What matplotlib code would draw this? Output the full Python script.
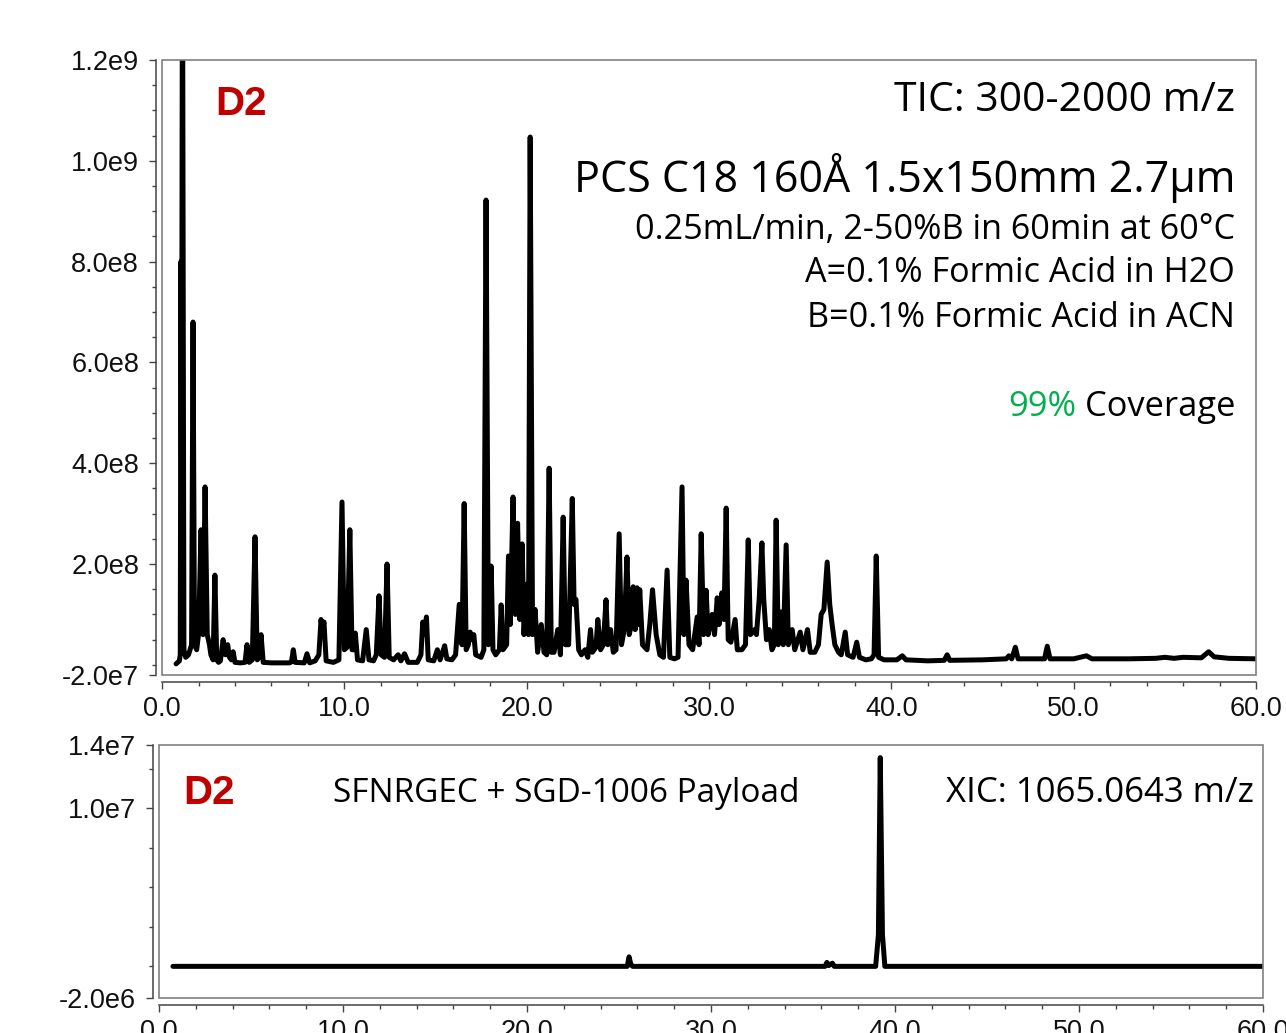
import matplotlib
matplotlib.use("Agg")
import matplotlib.pyplot as plt
from matplotlib.ticker import FixedLocator, MultipleLocator, FixedFormatter
from matplotlib.patches import Rectangle
import numpy as np

# ---------------- DATA ----------------
# TIC trace vertices: retention time (min) and intensity (x1e6 counts)
tic_time = [0.77, 0.95, 1.0, 1.04, 1.07, 1.12, 1.2, 1.3, 1.45, 1.62, 1.7, 1.78, 1.9, 2.0, 2.14, 2.25,
            2.36, 2.48, 2.6, 2.68, 2.8, 2.9, 3.0, 3.1, 3.2, 3.35, 3.48, 3.6, 3.7, 3.8, 3.9, 4.0,
            4.3, 4.55, 4.66, 4.78, 4.95, 5.1, 5.22, 5.33, 5.43, 5.55, 6.0, 7.0, 7.1, 7.2, 7.3, 7.8,
            7.95, 8.1, 8.4, 8.6, 8.72, 8.8, 8.88, 9.0, 9.4, 9.7, 9.87, 10.0, 10.15, 10.3, 10.42, 10.5,
            10.6, 10.72, 11.0, 11.2, 11.35, 11.6, 11.75, 11.9, 12.02, 12.2, 12.34, 12.46, 12.7, 12.95, 13.1, 13.3,
            13.5, 14.0, 14.2, 14.3, 14.4, 14.5, 14.6, 14.9, 15.1, 15.25, 15.5, 15.62, 15.9, 16.1, 16.3, 16.45,
            16.57, 16.68, 16.8, 16.9, 17.0, 17.1, 17.2, 17.5, 17.65, 17.77, 17.9, 18.05, 18.15, 18.3, 18.5, 18.6,
            18.7, 18.9, 19.0, 19.1, 19.25, 19.38, 19.5, 19.62, 19.75, 19.85, 20.0, 20.1, 20.19, 20.32, 20.46, 20.6,
            20.8, 20.95, 21.1, 21.23, 21.35, 21.5, 21.7, 21.85, 22.0, 22.12, 22.3, 22.5, 22.6, 22.7, 22.85, 23.0,
            23.2, 23.35, 23.5, 23.6, 23.8, 23.9, 24.05, 24.2, 24.35, 24.45, 24.6, 24.75, 24.9, 25.07, 25.2, 25.35,
            25.5, 25.62, 25.75, 25.84, 25.95, 26.05, 26.13, 26.2, 26.35, 26.6, 26.75, 26.9, 27.1, 27.3, 27.5, 27.7,
            27.85, 28.1, 28.3, 28.52, 28.62, 28.74, 28.9, 29.1, 29.35, 29.45, 29.57, 29.7, 29.84, 29.95, 30.17, 30.3,
            30.45, 30.55, 30.7, 30.82, 30.94, 31.05, 31.2, 31.43, 31.55, 31.8, 32.0, 32.15, 32.27, 32.5, 32.6, 32.75,
            32.9, 33.0, 33.15, 33.3, 33.45, 33.58, 33.68, 33.8, 33.95, 34.07, 34.23, 34.35, 34.56, 34.7, 35.0, 35.15,
            35.4, 35.55, 35.8, 36.0, 36.15, 36.3, 36.48, 36.62, 36.75, 36.9, 37.1, 37.25, 37.47, 37.6, 37.9, 38.1,
            38.25, 38.6, 38.9, 39.05, 39.17, 39.3, 39.6, 40.3, 40.6, 40.8, 42.0, 42.9, 43.06, 43.2, 45.0, 46.3,
            46.45, 46.6, 46.8, 46.95, 48.0, 48.4, 48.55, 48.7, 50.0, 50.7, 51.0, 53.0, 54.5, 55.0, 55.5, 56.0,
            57.0, 57.4, 57.7, 58.5, 60.0]
tic_intensity_e6 = [2, 8, 20, 800, 300, 1500, 30, 15, 20, 40, 680, 40, 30, 60, 268, 60,
                    353, 60, 40, 20, 10, 178, 10, 5, 8, 50, 20, 40, 15, 10, 26, 5,
                    4, 5, 40, 5, 10, 254, 10, 15, 60, 5, 4, 4, 6, 30, 5, 4,
                    22, 4, 8, 20, 90, 70, 85, 8, 5, 10, 323, 30, 35, 268, 30, 30,
                    63, 10, 8, 70, 10, 8, 20, 137, 20, 15, 200, 15, 10, 20, 8, 22,
                    5, 5, 20, 85, 60, 95, 10, 8, 30, 10, 38, 12, 10, 20, 120, 40,
                    320, 30, 40, 65, 50, 60, 20, 15, 30, 922, 40, 196, 30, 20, 30, 119,
                    30, 40, 216, 80, 333, 100, 281, 90, 240, 60, 160, 60, 1047, 60, 110, 25,
                    80, 25, 20, 390, 25, 25, 70, 20, 293, 40, 40, 330, 120, 130, 30, 20,
                    30, 15, 70, 25, 35, 90, 30, 40, 129, 40, 70, 25, 30, 260, 40, 70,
                    214, 60, 80, 155, 70, 153, 80, 149, 40, 30, 80, 149, 60, 20, 15, 188,
                    15, 12, 15, 353, 60, 168, 40, 30, 95, 40, 260, 60, 148, 60, 100, 60,
                    133, 80, 143, 90, 311, 50, 45, 90, 30, 30, 40, 248, 60, 70, 60, 130,
                    242, 130, 50, 70, 30, 40, 287, 40, 105, 40, 238, 40, 70, 30, 65, 30,
                    70, 25, 25, 40, 100, 110, 204, 120, 80, 40, 25, 20, 65, 20, 15, 45,
                    15, 10, 12, 20, 216, 15, 10, 10, 18, 10, 8, 9, 20, 9, 10, 12,
                    18, 12, 35, 12, 12, 12, 37, 12, 12, 18, 12, 12, 13, 15, 13, 15,
                    14, 26, 16, 13, 12]

# XIC trace vertices: retention time (min) and intensity (x1e6 counts)
xic_time = [0.76, 25.45, 25.55, 25.65, 25.75, 36.2, 36.3, 36.4, 36.6, 36.7,
            38.95, 39.1, 39.2, 39.32, 39.45, 60.0]
xic_intensity_e6 = [0, 0, 0.6, 0.1, 0, 0, 0.25, 0.05, 0.2, 0,
                    0, 2.0, 13.2, 2.0, 0, 0]

x_ticks = [0, 10, 20, 30, 40, 50, 60]
x_tick_labels = ["0.0", "10.0", "20.0", "30.0", "40.0", "50.0", "60.0"]
tic_y_ticks = [-2e7, 2e8, 4e8, 6e8, 8e8, 1.0e9, 1.2e9]
tic_y_labels = ["-2.0e7", "2.0e8", "4.0e8", "6.0e8", "8.0e8", "1.0e9", "1.2e9"]
xic_y_ticks = [-2e6, 1.0e7, 1.4e7]
xic_y_labels = ["-2.0e6", "1.0e7", "1.4e7"]
xic_y_minor = [0, 2.5e6, 5e6, 7.5e6, 1.25e7]

info_lines = ["TIC: 300-2000 m/z",
              "PCS C18 160Å 1.5x150mm 2.7µm",
              "0.25mL/min, 2-50%B in 60min at 60°C",
              "A=0.1% Formic Acid in H2O",
              "B=0.1% Formic Acid in ACN"]

# ---------------- PLOT ----------------
plt.rcParams['font.family'] = ['Liberation Sans', 'DejaVu Sans']
TXT = ['Open Sans', 'DejaVu Sans']
RED = '#C00000'
GREEN = '#00B050'

fig = plt.figure(figsize=(12.86, 10.33), dpi=100)
ax1 = fig.add_axes([0.126, 0.3466, 0.8507, 0.5954])
ax2 = fig.add_axes([0.1236, 0.0339, 0.8585, 0.2449])


def style_axis(ax):
    for s in ['top', 'right']:
        ax.spines[s].set_visible(False)
    ax.spines['left'].set_position(('outward', 4.5))
    ax.spines['bottom'].set_position(('outward', 5.0))
    for s in ['left', 'bottom']:
        ax.spines[s].set_color('#444444')
        ax.spines[s].set_linewidth(1.1)
    ax.add_patch(Rectangle((0, 0), 1, 1, transform=ax.transAxes, fill=False,
                           edgecolor='#808080', linewidth=1.2, clip_on=False, zorder=5))
    ax.tick_params(axis='both', which='major', length=5, width=1.0, color='#444444',
                   labelsize=19.5, labelcolor='#111111')
    ax.tick_params(axis='both', which='minor', length=3, width=1.0, color='#444444')
    ax.tick_params(axis='x', which='major', pad=5)
    ax.tick_params(axis='y', which='major', pad=7)
    ax.set_xlim(0, 60)
    ax.xaxis.set_major_locator(FixedLocator(x_ticks))
    ax.xaxis.set_major_formatter(FixedFormatter(x_tick_labels))
    ax.xaxis.set_minor_locator(MultipleLocator(2))


# Top: TIC
ax1.plot(tic_time, np.array(tic_intensity_e6) * 1e6, color='black', lw=3.6,
         solid_joinstyle='round', solid_capstyle='round')
ax1.set_ylim(-2e7, 1.2e9)
style_axis(ax1)
ax1.yaxis.set_major_locator(FixedLocator(tic_y_ticks))
ax1.yaxis.set_major_formatter(FixedFormatter(tic_y_labels))
ax1.yaxis.set_minor_locator(MultipleLocator(5e7))

ax1.text(0.0484, 0.929, "D2", transform=ax1.transAxes, color=RED, fontsize=29,
         fontweight='bold', ha='left', va='center')
xr = 0.981
ax1.text(xr, 0.933, info_lines[0], transform=ax1.transAxes, fontsize=29.5, family=TXT,
         ha='right', va='center')
ax1.text(xr, 0.808, info_lines[1], transform=ax1.transAxes, fontsize=31, family=TXT,
         ha='right', va='center')
for yy, s in zip([0.723, 0.654, 0.580], info_lines[2:]):
    ax1.text(xr, yy, s, transform=ax1.transAxes, fontsize=24.6, family=TXT,
             ha='right', va='center')
cov = ax1.text(xr, 0.436, " Coverage", transform=ax1.transAxes, fontsize=24.8,
               family=TXT, ha='right', va='center')
fig.canvas.draw()
bb = cov.get_window_extent().transformed(ax1.transAxes.inverted())
ax1.text(bb.x0, 0.436, "99%", transform=ax1.transAxes, fontsize=24.8, family=TXT,
         ha='right', va='center', color=GREEN)

# Bottom: XIC
ax2.plot(xic_time, np.array(xic_intensity_e6) * 1e6, color='black', lw=3.6,
         solid_joinstyle='round', solid_capstyle='round')
ax2.set_ylim(-2e6, 1.4e7)
style_axis(ax2)
ax2.yaxis.set_major_locator(FixedLocator(xic_y_ticks))
ax2.yaxis.set_major_formatter(FixedFormatter(xic_y_labels))
ax2.yaxis.set_minor_locator(FixedLocator(xic_y_minor))

ax2.text(0.0217, 0.810, "D2", transform=ax2.transAxes, color=RED, fontsize=29,
         fontweight='bold', ha='left', va='center')
ax2.text(0.3687, 0.810, "SFNRGEC + SGD-1006 Payload", transform=ax2.transAxes,
         fontsize=24, family=TXT, ha='center', va='center')
ax2.text(0.9918, 0.810, "XIC: 1065.0643 m/z", transform=ax2.transAxes,
         fontsize=25, family=TXT, ha='right', va='center')

fig.savefig("out.png", dpi=100)
